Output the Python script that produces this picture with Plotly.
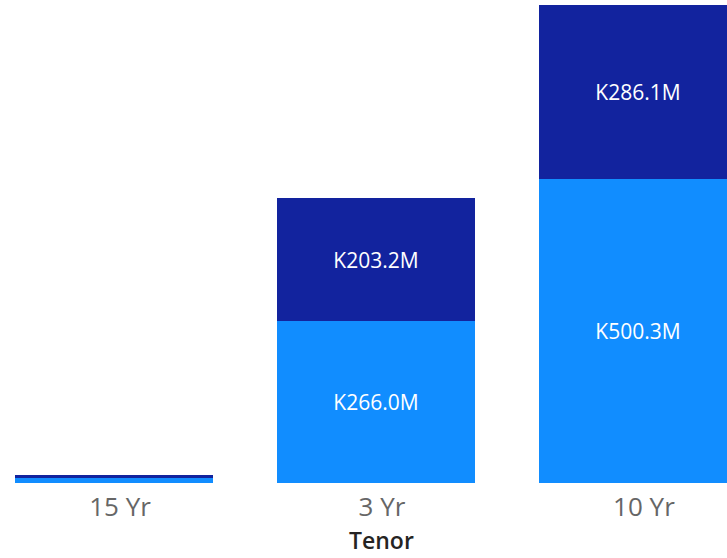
import plotly.graph_objects as go

categories = ["15 Yr", "3 Yr", "10 Yr"]
bottom_values = [8.0, 266.0, 500.3]   # K millions
top_values = [5.0, 203.2, 286.1]      # K millions
bottom_color = "#118DFF"
top_color = "#12239E"
axis_title = "Tenor"


def labels(vals):
    return [f"K{v:.1f}M" if v > 50 else "" for v in vals]


fig = go.Figure()
for vals, col in ((bottom_values, bottom_color), (top_values, top_color)):
    fig.add_trace(go.Bar(
        x=categories, y=vals, marker_color=col, marker_line_width=0,
        text=labels(vals), textposition="inside", insidetextanchor="middle",
        textfont=dict(color="white", size=21, family="Open Sans"),
        textangle=0, width=0.756, hoverinfo="skip",
    ))

fig.update_layout(
    barmode="stack",
    width=727, height=558,
    margin=dict(l=0, r=0, t=0, b=75),
    paper_bgcolor="white", plot_bgcolor="white",
    showlegend=False,
    font=dict(family="Open Sans"),
    xaxis=dict(
        range=[-0.435, 2.340], showgrid=False, zeroline=False, showline=False,
        ticks="", ticklabelstandoff=6,
        tickmode="array", tickvals=[i + 0.023 for i in range(len(categories))], ticktext=categories,
        tickfont=dict(size=26, color="#666666", family="Open Sans"),
    ),
    yaxis=dict(range=[0, 794.6], visible=False, showgrid=False, zeroline=False),
    annotations=[dict(
        text=axis_title, xref="paper", yref="paper", x=381.5 / 727, y=-75 / 483,
        xanchor="center", yanchor="bottom", showarrow=False,
        font=dict(size=23, color="#252423", family="Open Sans", weight=600),
    )],
)

fig.write_html("out.html", config={"displayModeBar": False},
               post_script="document.body.style.margin='0px';")
